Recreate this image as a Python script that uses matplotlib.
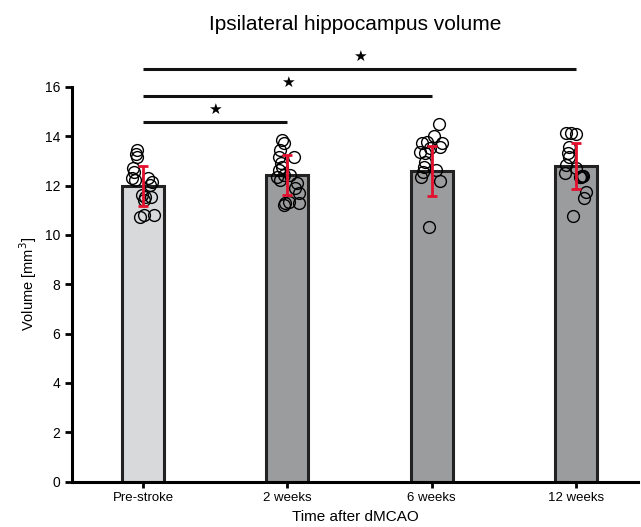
import numpy as np
import matplotlib.pyplot as plt

plt.rcParams['font.family'] = ['Liberation Sans', 'DejaVu Sans']

groups = ["Pre-stroke", "2 weeks", "6 weeks", "12 weeks"]
means = [12.0, 12.43, 12.59, 12.79]
sds = [0.81, 0.8, 1.0, 0.93]
bar_colors = ["#d8d9db", "#9b9c9e", "#9b9c9e", "#9b9c9e"]

# individual animals (value, horizontal jitter)
pre_y = [13.44, 13.27, 13.17, 12.70, 12.56, 12.29, 12.23, 12.29, 12.16, 12.02,
         11.62, 11.55, 11.55, 11.42, 10.74, 10.81, 10.81]
pre_dx = [-0.046, -0.053, -0.046, -0.069, -0.062, -0.076, -0.058, 0.035, 0.058, 0.047,
          -0.007, 0.012, 0.054, 0.007, -0.023, 0.007, 0.076]
w2_y = [13.85, 13.71, 13.44, 13.17, 13.17, 12.9, 12.77, 12.63, 12.36, 12.43,
        12.43, 12.23, 12.09, 11.89, 11.69, 11.28, 11.35, 11.28, 11.21]
w2_dx = [-0.038, -0.026, -0.054, 0.043, -0.061, -0.045, -0.038, -0.061, -0.073, -0.026,
         0.019, -0.05, 0.066, 0.054, 0.078, -0.015, 0.008, 0.078, -0.026]
w6_y = [14.49, 14.0, 13.78, 13.71, 13.71, 13.58, 13.51, 13.37, 13.31, 12.97,
        12.77, 12.56, 12.63, 12.36, 12.2, 10.34]
w6_dx = [0.053, 0.016, -0.035, -0.069, 0.069, 0.058, -0.012, -0.081, -0.046, -0.046,
         -0.053, -0.062, 0.03, -0.076, 0.058, -0.017]
w12_y = [14.12, 14.14, 14.09, 13.58, 13.31, 13.17, 12.83, 12.5, 12.7, 12.36,
         12.34, 12.38, 12.4, 11.75, 11.49, 10.77]
w12_dx = [-0.067, -0.033, 0.002, -0.049, -0.056, -0.044, -0.067, -0.078, 0.002, 0.026,
          0.035, 0.042, 0.049, 0.072, 0.06, -0.021]

points_y = [pre_y, w2_y, w6_y, w12_y]
points_dx = [pre_dx, w2_dx, w6_dx, w12_dx]

# significance brackets: (from group, to group, height)
sig = [(0, 1, 14.57), (0, 2, 15.64), (0, 3, 16.72)]

fig = plt.figure(figsize=(6.41, 5.27), dpi=100)
ax = fig.add_axes([0.1123, 0.086, 0.8827, 0.749])

x = np.arange(len(groups))
ax.bar(x, means, width=0.29, color=bar_colors, edgecolor="#222222",
       linewidth=2.2, zorder=1)

for i in range(len(groups)):
    ax.plot(x[i] + np.array(points_dx[i]), points_y[i], "o", ms=8.5,
            mfc="none", mec="black", mew=1.0, zorder=2)

ax.errorbar(x, means, yerr=sds, fmt="none", ecolor="#e5102d",
            elinewidth=2, capsize=3.5, capthick=2, zorder=3)

for a, b, h in sig:
    ax.plot([x[a], x[b]], [h, h], color="#111111", lw=2.2,
            solid_capstyle="butt", clip_on=False)
    ax.text((x[a] + x[b]) / 2, h + 0.22, "\u2605", ha="center", va="bottom",
            fontsize=11, family=["DejaVu Sans"])

ax.set_xlim(-0.494, 3.43)
ax.set_ylim(0, 16)
ax.set_yticks(range(0, 17, 2))
ax.set_xticks(x)
ax.set_xticklabels(groups, fontsize=9.5)
ax.tick_params(axis="y", labelsize=10, width=2, length=5)
ax.tick_params(axis="x", width=2, length=4)

for s in ["top", "right"]:
    ax.spines[s].set_visible(False)
for s in ["left", "bottom"]:
    ax.spines[s].set_linewidth(2.2)

ax.set_xlabel("Time after dMCAO", fontsize=11)
ax.set_ylabel("Volume [mm$^3$]", fontsize=10.5)
ax.set_title("Ipsilateral hippocampus volume", fontsize=15, pad=41)

fig.savefig("out.png", dpi=100)
